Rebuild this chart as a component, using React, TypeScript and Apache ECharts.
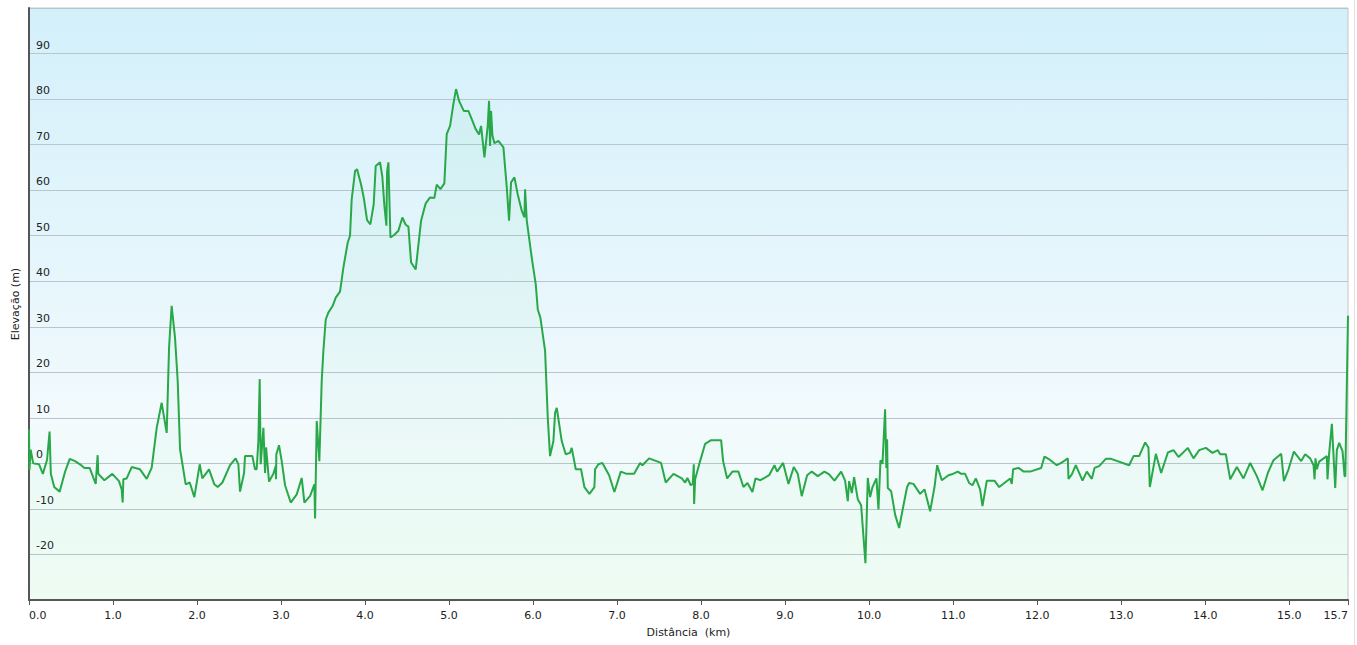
import React, { useEffect, useRef } from "react";
import * as echarts from "echarts";

// Distance along the track (km)
const distanceKm: number[] = [
  0, 0.005, 0.02, 0.05, 0.12, 0.165, 0.215, 0.245, 0.26, 0.3, 0.365, 0.43, 0.485, 0.548, 0.607, 0.66, 0.722,
  0.794, 0.817, 0.825, 0.897, 0.992, 1.071, 1.103, 1.115, 1.123, 1.163, 1.222, 1.321, 1.401, 1.46, 1.52,
  1.579, 1.639, 1.667, 1.698, 1.738, 1.77, 1.798, 1.865, 1.913, 1.968, 2.032, 2.063, 2.143, 2.206, 2.246,
  2.302, 2.393, 2.46, 2.492, 2.512, 2.56, 2.571, 2.659, 2.69, 2.71, 2.73, 2.746, 2.758, 2.79, 2.81, 2.822,
  2.857, 2.909, 2.937, 2.94, 2.944, 2.976, 3.008, 3.048, 3.115, 3.187, 3.246, 3.278, 3.345, 3.397, 3.405,
  3.425, 3.456, 3.484, 3.504, 3.532, 3.563, 3.615, 3.651, 3.702, 3.742, 3.794, 3.821, 3.841, 3.881, 3.905,
  3.952, 3.984, 4.024, 4.063, 4.103, 4.127, 4.179, 4.206, 4.23, 4.254, 4.262, 4.278, 4.302, 4.349, 4.397,
  4.444, 4.484, 4.516, 4.548, 4.603, 4.667, 4.722, 4.774, 4.825, 4.853, 4.897, 4.944, 4.972, 5.012, 5.052,
  5.083, 5.119, 5.175, 5.23, 5.27, 5.317, 5.357, 5.381, 5.421, 5.46, 5.476, 5.488, 5.5, 5.516, 5.54, 5.587,
  5.647, 5.687, 5.714, 5.738, 5.778, 5.817, 5.865, 5.897, 5.905, 5.925, 5.984, 6.032, 6.056, 6.087, 6.143,
  6.175, 6.202, 6.242, 6.262, 6.282, 6.341, 6.389, 6.44, 6.46, 6.508, 6.571, 6.611, 6.671, 6.73, 6.738,
  6.778, 6.825, 6.905, 6.968, 7.044, 7.115, 7.202, 7.274, 7.302, 7.381, 7.524, 7.579, 7.671, 7.77, 7.81,
  7.837, 7.877, 7.901, 7.913, 7.917, 7.929, 7.988, 8.048, 8.119, 8.238, 8.262, 8.31, 8.373, 8.444, 8.504,
  8.552, 8.611, 8.647, 8.706, 8.81, 8.873, 8.905, 8.976, 9.04, 9.103, 9.151, 9.198, 9.262, 9.317, 9.389,
  9.468, 9.524, 9.587, 9.667, 9.714, 9.746, 9.762, 9.794, 9.821, 9.865, 9.905, 9.956, 9.984, 10.012, 10.04,
  10.087, 10.111, 10.135, 10.159, 10.19, 10.205, 10.214, 10.222, 10.262, 10.31, 10.357, 10.409, 10.452,
  10.476, 10.528, 10.607, 10.659, 10.726, 10.778, 10.81, 10.865, 10.944, 10.984, 11.056, 11.095, 11.143,
  11.19, 11.23, 11.27, 11.321, 11.349, 11.401, 11.492, 11.548, 11.679, 11.698, 11.714, 11.778, 11.841,
  11.917, 12.048, 12.087, 12.135, 12.234, 12.302, 12.365, 12.373, 12.413, 12.46, 12.54, 12.591, 12.651,
  12.683, 12.738, 12.817, 12.881, 13.095, 13.147, 13.214, 13.286, 13.325, 13.341, 13.413, 13.476, 13.556,
  13.623, 13.683, 13.794, 13.861, 13.929, 14.008, 14.087, 14.151, 14.179, 14.246, 14.298, 14.377, 14.456,
  14.536, 14.615, 14.683, 14.746, 14.813, 14.905, 14.937, 14.992, 15.056, 15.143, 15.19, 15.25, 15.29,
  15.302, 15.313, 15.329, 15.357, 15.448, 15.456, 15.476, 15.508, 15.548, 15.567, 15.595, 15.635, 15.659,
  15.668, 15.7,
];

// Elevation (m)
const elevationM: number[] = [
  7.5, -1.5, 3.0, 0, -0.2, -2.3, 0.8, 7.0, -2.3, -5.2, -6.2, -1.8, 1.0, 0.5, -0.2, -1.0, -1.0,
  -4.5, 1.8, -2.3, -3.7, -2.3, -3.9, -5.7, -8.6, -3.5, -3.3, -0.8, -1.3, -3.4, -1.0, 7.8,
  13.3, 6.7, 25.4, 34.6, 27.6, 18.1, 3.1, -4.6, -4.2, -7.4, -0.2, -3.3, -1.3, -4.6, -5.2,
  -4.2, -0.4, 1.1, -0.2, -6.2, -2.1, 1.6, 1.6, -1.3, -1.3, 4.9, 18.5, -0.2, 7.8, -2.1, 3.5,
  -4.0, -2.3, -0.6, -3.5, 2.0, 4.0, 0.5, -4.8, -8.6, -6.8, -3.2, -8.6, -7.2, -4.6, -12.1,
  9.3, 0.5, 18.1, 24.7, 31.6, 33.1, 34.6, 36.4, 37.7, 43.0, 48.5, 50.0, 58.0, 64.2, 64.6,
  61.3, 58.4, 53.4, 52.5, 56.9, 65.3, 66.1, 62.9, 56.6, 52.2, 64.0, 66.1, 49.6, 50.2, 51.1,
  54.0, 52.4, 52.0, 44.1, 42.6, 53.3, 57.1, 58.4, 58.3, 61.2, 60.2, 61.5, 72.3, 74.1, 79.0,
  82.2, 79.6, 77.4, 77.4, 75.6, 73.4, 72.2, 74.1, 67.2, 74.1, 79.6, 69.7, 77.4, 72.0, 70.3, 70.8,
  69.4, 60.6, 53.3, 61.7, 62.8, 59.1, 55.5, 54.0, 60.2, 53.3, 45.2, 39.3, 33.8, 32.0, 24.7,
  10.0, 1.6, 4.9, 11.1, 12.2, 4.9, 2.0, 2.3, 3.4, -1.3, -1.3, -5.2, -6.7, -5.2, -1.3,
  -0.2, 0.1, -2.6, -6.3, -1.8, -2.3, -2.3, 0.1, -0.4, 1.1, 0.1, -4.2, -2.3, -3.3, -4.2,
  -3.2, -4.8, -4.5, -0.2, -8.9, -3.5, 0.5, 4.3, 5.1, 5.1, 0.5, -3.3, -1.8, -1.8, -5.2,
  -4.3, -6.3, -3.3, -3.7, -2.6, -0.4, -1.8, 0.1, -4.5, -0.8, -2.3, -7.2, -2.6, -1.8, -2.8,
  -1.8, -2.4, -3.8, -1.8, -3.8, -8.3, -3.9, -6.5, -3.0, -7.9, -9.2, -21.9, -3.2, -7.4, -5.2,
  -3.3, -10.1, 0.7, -0.1, 11.9, -1.0, 5.3, -5.4, -6.1, -11.3, -14.2, -9.2, -5.2,
  -4.3, -4.5, -6.7, -5.7, -10.5, -5.2, -0.4, -3.7, -2.6, -2.4, -1.8, -2.3, -2.3,
  -4.3, -4.8, -3.3, -5.7, -9.4, -3.8, -3.8, -5.2, -3.3, -4.5, -1.3, -1.0, -1.8,
  -1.8, -1.0, 1.5, 1.0, -0.4, 0.3, 1.1, -3.4, -2.4, -0.4, -3.8, -1.8, -3.4,
  -1.0, -0.6, 1.0, 1.0, -0.4, 1.6, 1.6, 4.6, 3.5, -5.2, 2.1, -2.1, 2.4,
  2.9, 1.4, 3.4, 1.1, 2.9, 3.4, 2.3, 2.9, 2.0, 2.0, -3.5, -0.8, -3.3,
  0.1, -2.8, -5.9, -2.1, 0.7, 2.1, -3.9, -1.3, 2.6, 0.5, 2.0, 1.1, -0.4,
  -3.5, 1.1, -1.3, 0.4, 1.6, -3.5, 2.3, 8.7, -5.4, 2.9, 4.5, 2.7, -2.8,
  -2.8, 32.4,
];

const xAxisMin = 0;
const xAxisMax = 15.7;
const xTickStep = 1;
const yAxisMin = -30;
const yAxisMax = 100;
const yTickStep = 10;

export default function App() {
  const ref = useRef<HTMLDivElement | null>(null);

  useEffect(() => {
    if (!ref.current) return;
    const chart = echarts.init(ref.current, undefined, { renderer: "svg" });
    const font = "'DejaVu Sans', Verdana, sans-serif";
    const points = distanceKm.map((d, i) => [d, elevationM[i]]);

    chart.setOption({
      animation: false,
      backgroundColor: "#ffffff",
      textStyle: { fontFamily: font },
      grid: {
        left: 29,
        right: 9,
        top: 8,
        bottom: 45,
        show: true,
        borderColor: "#c6c6c6",
        borderWidth: 1,
        backgroundColor: new echarts.graphic.LinearGradient(0, 0, 0, 1, [
          { offset: 0, color: "#d3f0fa" },
          { offset: 0.45, color: "#e6f6fc" },
          { offset: 0.68, color: "#f2fafd" },
          { offset: 1, color: "#f2fdf6" },
        ]),
      },
      xAxis: {
        type: "value",
        min: xAxisMin,
        max: xAxisMax,
        interval: xTickStep,
        name: "Distância  (km)",
        nameLocation: "middle",
        nameGap: 27,
        nameTextStyle: { fontSize: 11, color: "#222", fontFamily: font },
        axisLine: { show: true, onZero: false, lineStyle: { color: "#555", width: 2 } },
        axisTick: { show: true, length: 5, lineStyle: { color: "#555", width: 1 } },
        axisLabel: {
          fontSize: 11,
          color: "#222",
          margin: 10,
          fontFamily: font,
          formatter: (v: number) => v.toFixed(1),
          alignMinLabel: "left",
          alignMaxLabel: "right",
        },
        splitLine: { show: false },
      },
      yAxis: {
        type: "value",
        min: yAxisMin,
        max: yAxisMax,
        interval: yTickStep,
        name: "Elevação (m)",
        nameLocation: "middle",
        nameGap: 5,
        nameRotate: 90,
        nameTextStyle: { fontSize: 11, color: "#222", fontFamily: font },
        axisLine: { show: true, onZero: false, lineStyle: { color: "#555", width: 2 } },
        axisTick: { show: false },
        axisLabel: {
          inside: true,
          margin: 7,
          fontSize: 11,
          color: "#222",
          fontFamily: font,
          verticalAlign: "bottom",
          padding: [0, 0, 3, 0],
          showMinLabel: false,
          showMaxLabel: false,
        },
        splitLine: { show: true, lineStyle: { color: "#b8c5ca", width: 1 } },
      },
      series: [
        {
          type: "line",
          data: points,
          symbol: "none",
          showSymbol: false,
          lineStyle: { color: "#28a848", width: 2 },
          areaStyle: {
            origin: "start",
            color: new echarts.graphic.LinearGradient(0, 0, 0, 1, [
              { offset: 0, color: "rgba(80, 210, 140, 0.10)" },
              { offset: 1, color: "rgba(80, 210, 140, 0.04)" },
            ]),
          },
          z: 3,
        },
      ],
      graphic: [
        {
          type: "line",
          shape: { x1: 1354.5, y1: 0, x2: 1354.5, y2: 645 },
          style: { stroke: "#e2e2e2", lineWidth: 1 },
          silent: true,
        },
      ],
    });

    return () => chart.dispose();
  }, []);

  return (
    <div
      ref={ref}
      style={{ position: "absolute", left: 0, top: 0, width: 1357, height: 645 }}
    />
  );
}
